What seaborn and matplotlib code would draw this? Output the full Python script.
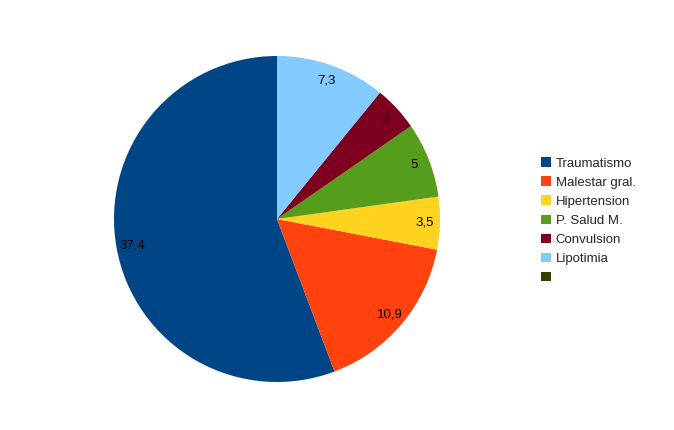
import matplotlib
matplotlib.use("Agg")
import matplotlib.pyplot as plt
import seaborn as sns

# data
categories = ["Traumatismo", "Malestar gral.", "Hipertension", "P. Salud M.",
              "Convulsion", "Lipotimia", ""]
values = [37.4, 10.9, 3.5, 5, 3, 7.3, 0]
value_labels = ["37,4", "10,9", "3,5", "5", "3", "7,3", ""]
colors = ["#004586", "#ff420e", "#ffd320", "#579d1c", "#7e0021", "#83caff", "#314004"]

sns.set_theme(style="white")
plt.rcParams["font.family"] = ["Liberation Sans", "DejaVu Sans"]

fig = plt.figure(figsize=(6.74, 4.30), dpi=100)
ax = fig.add_axes([114 / 674, 48 / 430, 326 / 674, 326 / 430])

wedges, texts = ax.pie(
    values,
    colors=sns.color_palette(colors),
    startangle=90,
    counterclock=True,
    labels=value_labels,
    labeldistance=0.905,
    textprops={"fontsize": 9.5, "color": "black", "ha": "center", "va": "center"},
    wedgeprops={"linewidth": 0},
)
for t in texts:
    t.set_horizontalalignment("center")
ax.set_xlim(-1, 1)
ax.set_ylim(-1, 1)
ax.set_aspect("equal")

leg = fig.legend(
    wedges, categories,
    loc="upper left",
    bbox_to_anchor=(536 / 674, 1 - 152 / 430),
    frameon=False,
    fontsize=9.5,
    handlelength=0.7,
    handleheight=0.7,
    handletextpad=0.4,
    labelspacing=0.52,
    borderaxespad=0,
)

fig.savefig("out.png", dpi=100)
